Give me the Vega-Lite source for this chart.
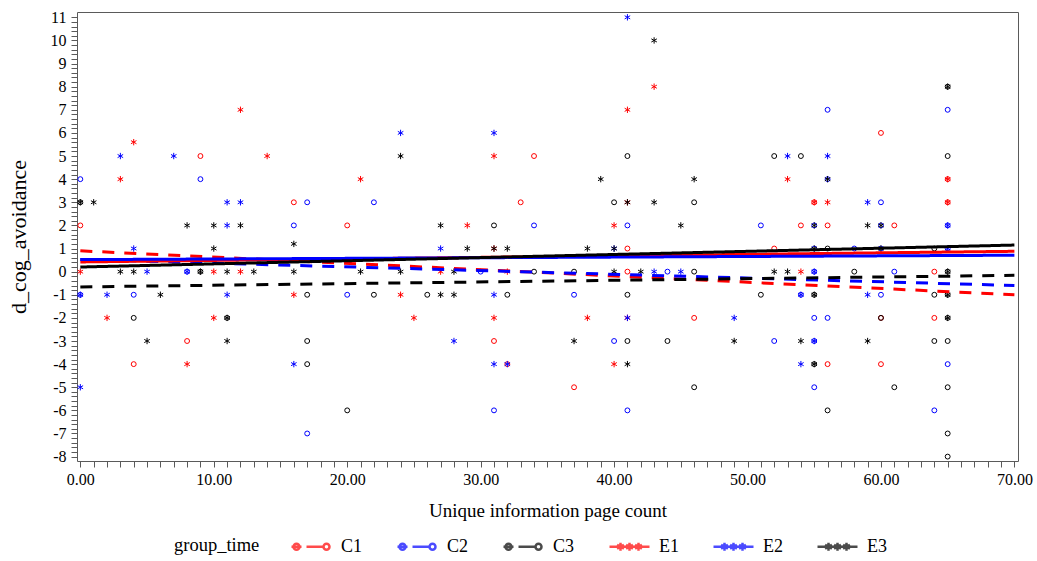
{
  "$schema": "https://vega.github.io/schema/vega-lite/v6.json",
  "width": 941,
  "height": 449,
  "autosize": {"type": "none"},
  "padding": {"left": 77, "top": 12, "right": 19, "bottom": 100},
  "background": "white",
  "config": {
    "font": "Liberation Serif",
    "view": {"stroke": "#5a5a5a", "strokeWidth": 1},
    "axis": {"grid": false, "domain": false, "tickColor": "#5a5a5a", "labelColor": "#000000", "titleColor": "#000000", "labelFont": "Liberation Serif", "titleFont": "Liberation Serif", "titleFontWeight": "normal"},
    "legend": {"labelFont": "Liberation Serif", "titleFont": "Liberation Serif", "titleFontWeight": "normal", "labelColor": "#000000", "titleColor": "#000000"}
  },
  "datasets": {
    "pts": [
      {"g":"C1","x":9,"y":5},{"g":"C1","x":0,"y":2},{"g":"C1","x":8,"y":-3},{"g":"C1","x":4,"y":-4},{"g":"C1","x":16,"y":3},{"g":"C1","x":20,"y":2},{"g":"C1","x":34,"y":5},{"g":"C1","x":33,"y":3},{"g":"C1","x":41,"y":1},{"g":"C1","x":41,"y":0},{"g":"C1","x":31,"y":-3},{"g":"C1","x":32,"y":-4},{"g":"C1","x":37,"y":-5},{"g":"C1","x":46,"y":-2},{"g":"C1","x":55,"y":3},{"g":"C1","x":54,"y":2},{"g":"C1","x":56,"y":2},{"g":"C1","x":52,"y":1},{"g":"C1","x":56,"y":-4},{"g":"C1","x":60,"y":6},{"g":"C1","x":65,"y":4},{"g":"C1","x":65,"y":3},{"g":"C1","x":61,"y":2},{"g":"C1","x":64,"y":0},{"g":"C1","x":60,"y":-2},{"g":"C1","x":64,"y":-2},{"g":"C1","x":60,"y":-4},
      {"g":"C2","x":0,"y":4},{"g":"C2","x":9,"y":4},{"g":"C2","x":8,"y":0},{"g":"C2","x":0,"y":-1},{"g":"C2","x":4,"y":-1},{"g":"C2","x":16,"y":2},{"g":"C2","x":17,"y":3},{"g":"C2","x":22,"y":3},{"g":"C2","x":20,"y":-1},{"g":"C2","x":17,"y":-7},{"g":"C2","x":30,"y":0},{"g":"C2","x":34,"y":2},{"g":"C2","x":41,"y":2},{"g":"C2","x":37,"y":-1},{"g":"C2","x":40,"y":-3},{"g":"C2","x":31,"y":-6},{"g":"C2","x":41,"y":-6},{"g":"C2","x":56,"y":7},{"g":"C2","x":56,"y":4},{"g":"C2","x":51,"y":2},{"g":"C2","x":55,"y":2},{"g":"C2","x":55,"y":1},{"g":"C2","x":44,"y":0},{"g":"C2","x":55,"y":0},{"g":"C2","x":54,"y":-1},{"g":"C2","x":55,"y":-2},{"g":"C2","x":56,"y":-2},{"g":"C2","x":52,"y":-3},{"g":"C2","x":55,"y":-3},{"g":"C2","x":55,"y":-5},{"g":"C2","x":65,"y":7},{"g":"C2","x":60,"y":3},{"g":"C2","x":60,"y":2},{"g":"C2","x":65,"y":2},{"g":"C2","x":58,"y":1},{"g":"C2","x":60,"y":1},{"g":"C2","x":65,"y":1},{"g":"C2","x":61,"y":0},{"g":"C2","x":60,"y":-1},{"g":"C2","x":65,"y":-4},{"g":"C2","x":64,"y":-6},
      {"g":"C3","x":0,"y":3},{"g":"C3","x":4,"y":-2},{"g":"C3","x":9,"y":0},{"g":"C3","x":11,"y":-2},{"g":"C3","x":17,"y":-1},{"g":"C3","x":22,"y":-1},{"g":"C3","x":26,"y":-1},{"g":"C3","x":17,"y":-3},{"g":"C3","x":17,"y":-4},{"g":"C3","x":20,"y":-6},{"g":"C3","x":41,"y":5},{"g":"C3","x":40,"y":3},{"g":"C3","x":31,"y":2},{"g":"C3","x":34,"y":0},{"g":"C3","x":37,"y":0},{"g":"C3","x":32,"y":-1},{"g":"C3","x":41,"y":-1},{"g":"C3","x":41,"y":-3},{"g":"C3","x":52,"y":5},{"g":"C3","x":54,"y":5},{"g":"C3","x":46,"y":3},{"g":"C3","x":56,"y":1},{"g":"C3","x":46,"y":0},{"g":"C3","x":51,"y":-1},{"g":"C3","x":55,"y":-1},{"g":"C3","x":44,"y":-3},{"g":"C3","x":55,"y":-4},{"g":"C3","x":46,"y":-5},{"g":"C3","x":56,"y":-6},{"g":"C3","x":65,"y":8},{"g":"C3","x":65,"y":5},{"g":"C3","x":64,"y":1},{"g":"C3","x":58,"y":0},{"g":"C3","x":65,"y":0},{"g":"C3","x":64,"y":-1},{"g":"C3","x":65,"y":-1},{"g":"C3","x":60,"y":-2},{"g":"C3","x":65,"y":-2},{"g":"C3","x":64,"y":-3},{"g":"C3","x":65,"y":-3},{"g":"C3","x":61,"y":-5},{"g":"C3","x":65,"y":-5},{"g":"C3","x":65,"y":-7},{"g":"C3","x":65,"y":-8},
      {"g":"E1","x":12,"y":7},{"g":"E1","x":4,"y":5.6},{"g":"E1","x":14,"y":5},{"g":"E1","x":3,"y":4},{"g":"E1","x":0,"y":0},{"g":"E1","x":10,"y":0},{"g":"E1","x":12,"y":0},{"g":"E1","x":2,"y":-2},{"g":"E1","x":10,"y":-2},{"g":"E1","x":8,"y":-4},{"g":"E1","x":21,"y":4},{"g":"E1","x":27,"y":0},{"g":"E1","x":16,"y":-1},{"g":"E1","x":24,"y":-1},{"g":"E1","x":25,"y":-2},{"g":"E1","x":41,"y":7},{"g":"E1","x":31,"y":5},{"g":"E1","x":41,"y":3},{"g":"E1","x":29,"y":2},{"g":"E1","x":40,"y":2},{"g":"E1","x":31,"y":1},{"g":"E1","x":32,"y":0},{"g":"E1","x":31,"y":-2},{"g":"E1","x":38,"y":-2},{"g":"E1","x":41,"y":-2},{"g":"E1","x":40,"y":-4},{"g":"E1","x":43,"y":8},{"g":"E1","x":53,"y":4},{"g":"E1","x":55,"y":3},{"g":"E1","x":56,"y":3},{"g":"E1","x":54,"y":0},{"g":"E1","x":65,"y":3},{"g":"E1","x":65,"y":4},
      {"g":"E2","x":3,"y":5},{"g":"E2","x":7,"y":5},{"g":"E2","x":11,"y":3},{"g":"E2","x":12,"y":3},{"g":"E2","x":11,"y":2},{"g":"E2","x":4,"y":1},{"g":"E2","x":5,"y":0},{"g":"E2","x":8,"y":0},{"g":"E2","x":0,"y":-1},{"g":"E2","x":2,"y":-1},{"g":"E2","x":11,"y":-1},{"g":"E2","x":0,"y":-5},{"g":"E2","x":24,"y":6},{"g":"E2","x":27,"y":1},{"g":"E2","x":28,"y":-3},{"g":"E2","x":16,"y":-4},{"g":"E2","x":41,"y":11},{"g":"E2","x":31,"y":6},{"g":"E2","x":40,"y":1},{"g":"E2","x":31,"y":-1},{"g":"E2","x":41,"y":-2},{"g":"E2","x":31,"y":-4},{"g":"E2","x":32,"y":-4},{"g":"E2","x":53,"y":5},{"g":"E2","x":56,"y":5},{"g":"E2","x":43,"y":0},{"g":"E2","x":45,"y":0},{"g":"E2","x":55,"y":0},{"g":"E2","x":54,"y":-1},{"g":"E2","x":49,"y":-2},{"g":"E2","x":55,"y":-3},{"g":"E2","x":54,"y":-4},{"g":"E2","x":59,"y":3},{"g":"E2","x":65,"y":2},{"g":"E2","x":65,"y":1},{"g":"E2","x":59,"y":-1},
      {"g":"E3","x":0,"y":3},{"g":"E3","x":1,"y":3},{"g":"E3","x":8,"y":2},{"g":"E3","x":10,"y":2},{"g":"E3","x":12,"y":2},{"g":"E3","x":10,"y":1},{"g":"E3","x":3,"y":0},{"g":"E3","x":4,"y":0},{"g":"E3","x":9,"y":0},{"g":"E3","x":11,"y":0},{"g":"E3","x":13,"y":0},{"g":"E3","x":6,"y":-1},{"g":"E3","x":11,"y":-2},{"g":"E3","x":5,"y":-3},{"g":"E3","x":11,"y":-3},{"g":"E3","x":24,"y":5},{"g":"E3","x":27,"y":2},{"g":"E3","x":16,"y":1.2},{"g":"E3","x":16,"y":0},{"g":"E3","x":21,"y":0},{"g":"E3","x":24,"y":0},{"g":"E3","x":28,"y":0},{"g":"E3","x":27,"y":-1},{"g":"E3","x":28,"y":-1},{"g":"E3","x":39,"y":4},{"g":"E3","x":41,"y":3},{"g":"E3","x":29,"y":1},{"g":"E3","x":31,"y":1},{"g":"E3","x":32,"y":1},{"g":"E3","x":38,"y":1},{"g":"E3","x":40,"y":1},{"g":"E3","x":40,"y":0},{"g":"E3","x":42,"y":0},{"g":"E3","x":37,"y":-3},{"g":"E3","x":41,"y":-4},{"g":"E3","x":43,"y":10},{"g":"E3","x":46,"y":4},{"g":"E3","x":43,"y":3},{"g":"E3","x":45,"y":2},{"g":"E3","x":55,"y":2},{"g":"E3","x":55,"y":1},{"g":"E3","x":52,"y":0},{"g":"E3","x":53,"y":0},{"g":"E3","x":55,"y":-1},{"g":"E3","x":49,"y":-3},{"g":"E3","x":54,"y":-3},{"g":"E3","x":55,"y":-4},{"g":"E3","x":56,"y":4},{"g":"E3","x":65,"y":8},{"g":"E3","x":59,"y":2},{"g":"E3","x":60,"y":2},{"g":"E3","x":60,"y":1},{"g":"E3","x":65,"y":0},{"g":"E3","x":65,"y":-1},{"g":"E3","x":65,"y":-2},{"g":"E3","x":59,"y":-3}
    ],
    "fit": [
      {"g":"C1","x":0,"y":0.9},{"g":"C1","x":70,"y":-1.0},
      {"g":"C2","x":0,"y":0.53},{"g":"C2","x":70,"y":-0.6},
      {"g":"C3","x":0,"y":-0.66},{"g":"C3","x":70,"y":-0.16},
      {"g":"E1","x":0,"y":0.42},{"g":"E1","x":70,"y":0.88},
      {"g":"E2","x":0,"y":0.52},{"g":"E2","x":70,"y":0.71},
      {"g":"E3","x":0,"y":0.2},{"g":"E3","x":70,"y":1.15}
    ],
    "leg": [{"g":"C1"},{"g":"C2"},{"g":"C3"},{"g":"E1"},{"g":"E2"},{"g":"E3"}]
  },
  "layer": [
    {
      "mark": {"type": "rule", "color": "#c8c8c8", "strokeWidth": 1},
      "encoding": {"y": {"datum": 0, "type": "quantitative", "scale": {"domain": [-8.19, 11.23], "nice": false, "zero": false}}}
    },
    {
      "data": {"name": "pts"},
      "mark": {"type": "point", "filled": false, "size": 24, "strokeWidth": 1, "opacity": 1},
      "encoding": {
        "x": {
          "field": "x", "type": "quantitative",
          "scale": {"domain": [-0.25, 70.27], "nice": false, "zero": false},
          "axis": {
            "title": "Unique information page count", "titleFontSize": 19, "titlePadding": 14,
            "values": [0,1,2,3,4,5,6,7,8,9,10,11,12,13,14,15,16,17,18,19,20,21,22,23,24,25,26,27,28,29,30,31,32,33,34,35,36,37,38,39,40,41,42,43,44,45,46,47,48,49,50,51,52,53,54,55,56,57,58,59,60,61,62,63,64,65,66,67,68,69,70],
            "tickCount": 500,
            "labelExpr": "datum.value % 10 === 0 ? format(datum.value, '.2f') : ''",
            "labelFontSize": 16, "labelPadding": 4, "tickSize": 6, "labelOverlap": false, "labelFlush": false,
            "encode": {"ticks": {"update": {"y2": {"signal": "datum.value % 10 === 0 ? 6 : 3.5"}}}}
          }
        },
        "y": {
          "field": "y", "type": "quantitative",
          "scale": {"domain": [-8.19, 11.23], "nice": false, "zero": false},
          "axis": {
            "title": "d_cog_avoidance", "titleFontSize": 22, "titlePadding": 20,
            "values": [-8,-7.8,-7.6,-7.4,-7.2,-7,-6.8,-6.6,-6.4,-6.2,-6,-5.8,-5.6,-5.4,-5.2,-5,-4.8,-4.6,-4.4,-4.2,-4,-3.8,-3.6,-3.4,-3.2,-3,-2.8,-2.6,-2.4,-2.2,-2,-1.8,-1.6,-1.4,-1.2,-1,-0.8,-0.6,-0.4,-0.2,0,0.2,0.4,0.6,0.8,1,1.2,1.4,1.6,1.8,2,2.2,2.4,2.6,2.8,3,3.2,3.4,3.6,3.8,4,4.2,4.4,4.6,4.8,5,5.2,5.4,5.6,5.8,6,6.2,6.4,6.6,6.8,7,7.2,7.4,7.6,7.8,8,8.2,8.4,8.6,8.8,9,9.2,9.4,9.6,9.8,10,10.2,10.4,10.6,10.8,11],
            "tickCount": 500,
            "labelExpr": "abs(datum.value - round(datum.value)) < 0.001 ? '' + round(datum.value) : ''",
            "labelFontSize": 16, "labelPadding": 5, "tickSize": 6, "labelOverlap": false, "labelFlush": false,
            "encode": {"ticks": {"update": {"x2": {"signal": "abs(datum.value - round(datum.value)) < 0.001 ? -6 : -3.5"}}}}
          }
        },
        "color": {"field": "g", "type": "nominal", "scale": {"domain": ["C1","C2","C3","E1","E2","E3"], "range": ["#ff0000","#0000ff","#000000","#ff0000","#0000ff","#000000"]}, "legend": null},
        "shape": {"field": "g", "type": "nominal", "scale": {"domain": ["C1","C2","C3","E1","E2","E3"], "range": ["circle","circle","circle","M0,-1.3V1.3M-1.13,-0.65L1.13,0.65M-1.13,0.65L1.13,-0.65","M0,-1.3V1.3M-1.13,-0.65L1.13,0.65M-1.13,0.65L1.13,-0.65","M0,-1.3V1.3M-1.13,-0.65L1.13,0.65M-1.13,0.65L1.13,-0.65"]}, "legend": null}
      }
    },
    {
      "data": {"name": "fit"},
      "mark": {"type": "line", "strokeWidth": 3, "clip": true},
      "encoding": {
        "x": {"field": "x", "type": "quantitative"},
        "y": {"field": "y", "type": "quantitative"},
        "color": {"field": "g", "type": "nominal", "scale": {"domain": ["C1","C2","C3","E1","E2","E3"], "range": ["#ff0000","#0000ff","#000000","#ff0000","#0000ff","#000000"]}, "legend": null},
        "strokeDash": {"field": "g", "type": "nominal", "scale": {"domain": ["C1","C2","C3","E1","E2","E3"], "range": [[12,10],[12,10],[12,10],[1,0],[1,0],[1,0]]}, "legend": null}
      }
    },
    {
      "data": {"name": "leg"},
      "mark": {"type": "point", "filled": false, "size": 0, "strokeWidth": 2.5},
      "encoding": {
        "color": {"field": "g", "type": "nominal", "scale": {"domain": ["C1","C2","C3","E1","E2","E3"], "range": ["#ff0000","#0000ff","#000000","#ff0000","#0000ff","#000000"]},
          "legend": {"title": "group_time", "orient": "none", "legendX": 97, "legendY": 513, "direction": "horizontal", "titleOrient": "left", "titleAnchor": "middle", "titleBaseline": "line-top", "titleLineHeight": 12, "titleFontSize": 18.5, "labelFontSize": 18, "symbolSize": 1600, "symbolStrokeWidth": 2.5, "labelOffset": 8, "columnPadding": 29, "titlePadding": 30, "padding": 0}},
        "shape": {"field": "g", "type": "nominal", "scale": {"domain": ["C1","C2","C3","E1","E2","E3"], "range": [
          "M-1,0H-0.5M-0.6,0A0.15,0.15 0 1,1 -0.9,0A0.15,0.15 0 1,1 -0.6,0M-0.25,0H0.6M0.9,0A0.15,0.15 0 1,1 0.6,0A0.15,0.15 0 1,1 0.9,0",
          "M-1,0H-0.5M-0.6,0A0.15,0.15 0 1,1 -0.9,0A0.15,0.15 0 1,1 -0.6,0M-0.25,0H0.6M0.9,0A0.15,0.15 0 1,1 0.6,0A0.15,0.15 0 1,1 0.9,0",
          "M-1,0H-0.5M-0.6,0A0.15,0.15 0 1,1 -0.9,0A0.15,0.15 0 1,1 -0.6,0M-0.25,0H0.6M0.9,0A0.15,0.15 0 1,1 0.6,0A0.15,0.15 0 1,1 0.9,0",
          "M-1,0H1M-0.45,-0.2V0.2M-0.62,-0.1L-0.28,0.1M-0.62,0.1L-0.28,-0.1M0,-0.2V0.2M-0.17,-0.1L0.17,0.1M-0.17,0.1L0.17,-0.1M0.45,-0.2V0.2M0.28,-0.1L0.62,0.1M0.28,0.1L0.62,-0.1",
          "M-1,0H1M-0.45,-0.2V0.2M-0.62,-0.1L-0.28,0.1M-0.62,0.1L-0.28,-0.1M0,-0.2V0.2M-0.17,-0.1L0.17,0.1M-0.17,0.1L0.17,-0.1M0.45,-0.2V0.2M0.28,-0.1L0.62,0.1M0.28,0.1L0.62,-0.1",
          "M-1,0H1M-0.45,-0.2V0.2M-0.62,-0.1L-0.28,0.1M-0.62,0.1L-0.28,-0.1M0,-0.2V0.2M-0.17,-0.1L0.17,0.1M-0.17,0.1L0.17,-0.1M0.45,-0.2V0.2M0.28,-0.1L0.62,0.1M0.28,0.1L0.62,-0.1"
        ]},
          "legend": {"title": "group_time", "orient": "none", "legendX": 97, "legendY": 513, "direction": "horizontal", "titleOrient": "left", "titleAnchor": "middle", "titleBaseline": "line-top", "titleLineHeight": 12, "titleFontSize": 18.5, "labelFontSize": 18, "symbolSize": 1600, "symbolStrokeWidth": 2.5, "labelOffset": 8, "columnPadding": 29, "titlePadding": 30, "padding": 0}}
      }
    }
  ],
  "resolve": {"scale": {"color": "independent", "shape": "independent", "strokeDash": "independent"}}
}
